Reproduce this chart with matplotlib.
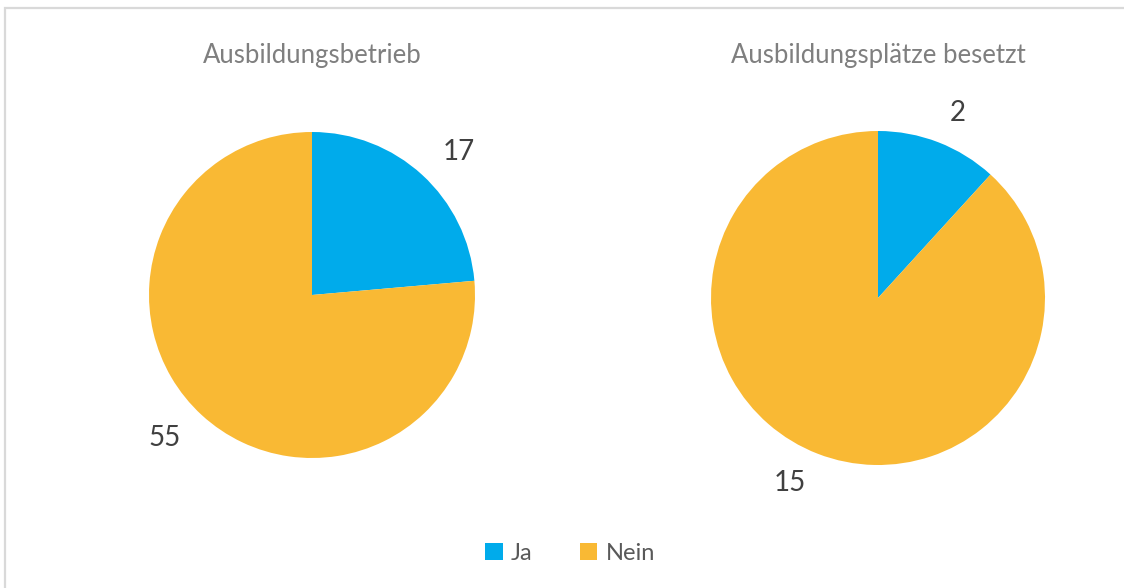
import matplotlib
matplotlib.use("Agg")
import matplotlib.pyplot as plt
from matplotlib.patches import Rectangle, Patch

plt.rcParams['font.family'] = ['Lato', 'DejaVu Sans']

categories = ["Ja", "Nein"]
titles = ["Ausbildungsbetrieb", "Ausbildungsplätze besetzt"]
values_1 = [17, 55]
values_2 = [2, 15]
colors = ["#00ABEB", "#F9B934"]

W, H = 1124, 588
fig = plt.figure(figsize=(W / 100, H / 100), dpi=100)

# chart border (light gray)
fig.patches.append(Rectangle((5 / W, -0.05), 1.2, (H - 8) / H + 0.05,
                             transform=fig.transFigure, fill=False,
                             edgecolor="#D9D9D9", linewidth=1.6))

def add_pie(cx, cy, r, vals, title, ld):
    ax = fig.add_axes([(cx - r) / W, (H - cy - r) / H, 2 * r / W, 2 * r / H])
    wedges, texts = ax.pie(vals, labels=[str(v) for v in vals], colors=colors,
                           startangle=90, counterclock=False,
                           labeldistance=ld, radius=1,
                           textprops=dict(fontsize=20, color="#404040"))
    ax.set_xlim(-1, 1)
    ax.set_ylim(-1, 1)
    ax.set_aspect("equal")
    ax.axis("off")
    fig.text(cx / W, 1 - 55 / H, title, ha="center", va="center",
             fontsize=18.5, color="#7F7F7F")
    return ax, texts

ax1, t1 = add_pie(312, 295, 163, values_1, titles[0], 1.19)
ax2, t2 = add_pie(878, 298, 167, values_2, titles[1], 1.19)

handles = [Patch(facecolor=c, label=l) for c, l in zip(colors, categories)]
leg = fig.legend(handles=handles, loc="center", bbox_to_anchor=(570 / W, 1 - 553 / H),
                 ncol=2, frameon=False, fontsize=17, handlelength=0.75,
                 handleheight=0.75, handletextpad=0.35, columnspacing=2.0)
for t in leg.get_texts():
    t.set_color("#595959")

fig.savefig("out.png", dpi=100)
